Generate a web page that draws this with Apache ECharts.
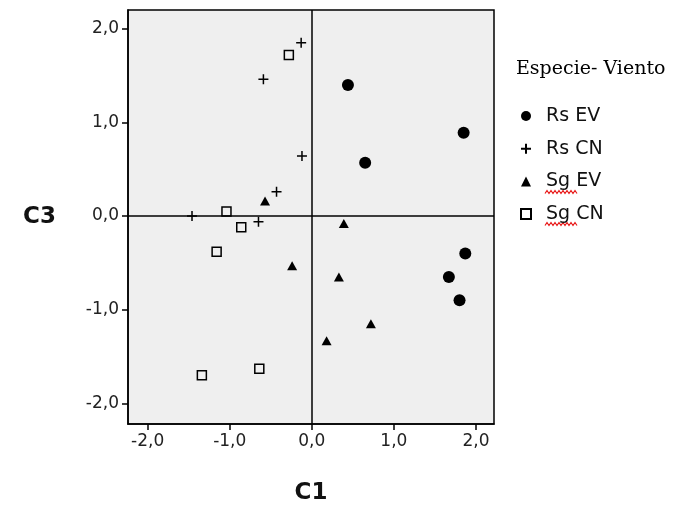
<!DOCTYPE html>
<html>
<head>
<meta charset="utf-8">
<script src="https://cdn.jsdelivr.net/npm/echarts@6/dist/echarts.min.js"></script>
<style>
  html, body { margin: 0; padding: 0; background: #fff; }
  #chart { width: 683px; height: 513px; }
</style>
</head>
<body>
<div id="chart"></div>
<script>
// ejes y marcas
const xTicks = [-2, -1, 0, 1, 2];
const yTicks = [-2, -1, 0, 1, 2];

// puntos [C1, C3] por grupo
const rsEV = [[0.44, 1.40], [1.85, 0.89], [0.65, 0.57], [1.87, -0.40], [1.67, -0.65], [1.80, -0.90]];
const rsCN = [[-0.13, 1.85], [-0.59, 1.46], [-0.12, 0.64], [-0.43, 0.26], [-1.46, 0.00], [-0.65, -0.06]];
const sgEV = [[-0.57, 0.16], [0.39, -0.08], [-0.24, -0.53], [0.33, -0.65], [0.72, -1.15], [0.18, -1.33]];
const sgCN = [[-0.28, 1.72], [-1.04, 0.05], [-0.86, -0.12], [-1.16, -0.38], [-1.34, -1.70], [-0.64, -1.63]];

const groupNames = ["Rs EV", "Rs CN", "Sg EV", "Sg CN"];

const fmt = v => v.toFixed(1).replace(".", ",");
const labelFont = { fontFamily: "DejaVu Sans", fontSize: 17, color: "#222" };
const plusPath = "path://M0,5L10,5M5,0L5,10";

// subrayado ondulado rojo bajo "Sg" (corrector ortográfico)
function squiggle(x0, y0, w) {
    const pts = [];
    for (let i = 0; i <= w / 2; i++) pts.push([x0 + i * 2, y0 + (i % 2 ? -1.5 : 1.5)]);
    return {
        type: "polyline", silent: true,
        shape: { points: pts },
        style: { stroke: "#e81818", lineWidth: 1.2, fill: null },
    };
}

const chart = echarts.init(document.getElementById("chart"));
chart.setOption({
    backgroundColor: "#fff",
    animation: false,
    grid: {
        left: 128, top: 10, width: 366, height: 414,
        show: true, backgroundColor: "#efefef",
        borderColor: "#000", borderWidth: 1.5,
    },
    graphic: [
        {
            type: "text", left: 516, top: 60,
            style: { text: "Especie- Viento", font: "19px 'DejaVu Serif'", fill: "#000" },
        },
        squiggle(545, 192, 32),
        squiggle(545, 224, 32),
    ],
    legend: {
        orient: "vertical", left: 520, top: 105, padding: 0,
        itemWidth: 10, itemHeight: 10, itemGap: 10.7,
        textStyle: { fontFamily: "DejaVu Sans", fontSize: 19, color: "#111", padding: [0, 0, 0, 10], lineHeight: 22 },
        data: [
            { name: groupNames[0], icon: "circle" },
            { name: groupNames[1], icon: plusPath },
            { name: groupNames[2], icon: "triangle" },
            { name: groupNames[3], icon: "rect" },
        ],
    },
    xAxis: {
        type: "value", min: -2.24, max: 2.22,
        name: "C1", nameLocation: "middle", nameGap: 58,
        nameTextStyle: { fontFamily: "DejaVu Sans", fontSize: 23, fontWeight: "bold", color: "#111" },
        splitLine: { show: false },
        axisLine: { show: true, onZero: false, lineStyle: { color: "#000", width: 1.5 } },
        axisTick: { show: true, length: 6, customValues: xTicks, lineStyle: { color: "#000", width: 1.5 } },
        axisLabel: { ...labelFont, margin: 9, customValues: xTicks, formatter: fmt },
    },
    yAxis: {
        type: "value", min: -2.22, max: 2.2,
        name: "C3", nameLocation: "middle", nameRotate: 0, nameGap: 72,
        nameTextStyle: { fontFamily: "DejaVu Sans", fontSize: 23, fontWeight: "bold", color: "#111" },
        splitLine: { show: false },
        axisLine: { show: true, onZero: false, lineStyle: { color: "#000", width: 1.5 } },
        axisTick: { show: true, length: 6, customValues: yTicks, lineStyle: { color: "#000", width: 1.5 } },
        axisLabel: { ...labelFont, margin: 9, customValues: yTicks, formatter: fmt },
    },
    series: [
        {
            name: groupNames[0], type: "scatter", data: rsEV,
            symbol: "circle", symbolSize: 12,
            itemStyle: { color: "#000", opacity: 1 },
            markLine: {
                silent: true, symbol: "none", label: { show: false },
                lineStyle: { color: "#000", width: 1.5, type: "solid" },
                data: [{ xAxis: 0 }, { yAxis: 0 }],
            },
        },
        {
            name: groupNames[1], type: "scatter", data: rsCN,
            symbol: plusPath, symbolSize: 10,
            itemStyle: { color: "rgba(0,0,0,0)", borderColor: "#000", borderWidth: 1.5, opacity: 1 },
        },
        {
            name: groupNames[2], type: "scatter", data: sgEV,
            symbol: "triangle", symbolSize: [10, 9],
            itemStyle: { color: "#000", opacity: 1 },
        },
        {
            name: groupNames[3], type: "scatter", data: sgCN,
            symbol: "rect", symbolSize: 9,
            itemStyle: { color: "rgba(0,0,0,0)", borderColor: "#000", borderWidth: 1.5, opacity: 1 },
        },
    ],
});
</script>
</body>
</html>
